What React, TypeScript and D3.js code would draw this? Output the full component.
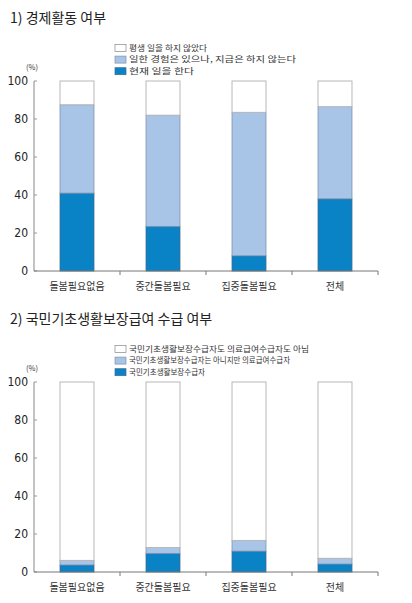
import React from 'react';
import * as d3 from 'd3';

const categories = ['돌봄필요없음', '중간돌봄필요', '집중돌봄필요', '전체'];
const yTicks = [0, 20, 40, 60, 80, 100];

// 1) 경제활동 여부
const workKeys = ['now', 'past', 'never'];
const workLabels = ['평생 일을 하지 않았다', '일한 경험은 있으나, 지금은 하지 않는다', '현재 일을 한다'];
const workNow = [41, 23.5, 8, 38];
const workPast = [46.5, 58.5, 75.5, 48.5];
const workNever = [12.5, 18, 16.5, 13.5];

// 2) 국민기초생활보장급여 수급 여부
const benefitLabels = [
  '국민기초생활보장수급자도 의료급여수급자도 아님',
  '국민기초생활보장수급자는 아니지만 의료급여수급자',
  '국민기초생활보장수급자',
];
const benefitBasic = [3.7, 9.8, 11, 4.2];
const benefitMedical = [2.4, 3.1, 5.6, 3.0];
const benefitNone = [93.9, 87.1, 83.4, 92.8];

const fills = ['#0a82c6', '#a8c4e7', '#ffffff'];
const strokes = ['#3f6a8f', '#7f93ad', '#b8b8b8'];
const legendFills = ['#ffffff', '#a8c4e7', '#0a82c6'];

const KR = '"Noto Sans CJK KR", "Noto Sans", sans-serif';
const NUM = '"Liberation Sans Narrow", "DejaVu Sans Condensed", sans-serif';

interface PanelProps {
  top: number;
  title: string;
  legend: string[];
  legendWidths: number[];
  series: number[][];
}

const Panel: React.FC<PanelProps> = ({ top, title, legend, legendWidths, series }) => {
  const x = d3.scaleBand<string>()
    .domain(categories)
    .range([34, 378])
    .paddingInner(0.605)
    .paddingOuter(0.3025);
  const y = d3.scaleLinear().domain([0, 100]).range([top + 257, top + 67]);

  const rows = categories.map((c, i) => {
    const r: any = { cat: c };
    workKeys.forEach((k, j) => (r[k] = series[j][i]));
    return r;
  });
  const stacked = d3.stack<any>().keys(workKeys)(rows);
  const step = x.step();

  return (
    <g>
      <text x={10} y={top + 9} fontFamily={KR} fontSize={14} fill="#222">{title}</text>

      {legend.map((l, i) => (
        <g key={l} transform={`translate(115,${top + 34 + i * 11.6})`}>
          <rect x={0} y={-3.5} width={11} height={7} fill={legendFills[i]}
            stroke={i === 0 ? '#888' : strokes[2 - i]} strokeWidth={0.7} />
          <text x={14} y={0} dy="0.36em" fontFamily={KR} fontSize={8}
            textLength={legendWidths[i]} lengthAdjust="spacingAndGlyphs" fill="#333">{l}</text>
        </g>
      ))}

      <text x={32} y={top + 56} textAnchor="middle" fontFamily={KR} fontSize={7.5} fill="#333">(%)</text>

      {/* y axis */}
      <line x1={34} x2={34} y1={y(100)} y2={y(0)} stroke="#b5b5b5" strokeWidth={1.6} />
      {yTicks.map(t => (
        <g key={t}>
          <line x1={34} x2={37} y1={y(t)} y2={y(t)} stroke="#999" strokeWidth={1} />
          <text x={28} y={y(t)} dy="0.36em" textAnchor="end" fontFamily={NUM} fontSize={12} fill="#222">{t}</text>
        </g>
      ))}

      {/* bars */}
      {stacked.map((s, j) => (
        <g key={s.key}>
          {s.map((d: any) => (
            <rect key={d.data.cat} x={x(d.data.cat)} width={x.bandwidth()}
              y={y(d[1])} height={y(d[0]) - y(d[1])}
              fill={fills[j]} stroke={strokes[j]} strokeWidth={j === 2 ? 1 : 0.8} />
          ))}
        </g>
      ))}

      {/* x axis */}
      <line x1={34} x2={378} y1={y(0)} y2={y(0)} stroke="#777" strokeWidth={1} />
      {categories.map((c, i) => (
        <line key={c} x1={34 + step * (i + 1)} x2={34 + step * (i + 1)} y1={y(0)} y2={y(0) + 4}
          stroke="#777" strokeWidth={1} />
      ))}
      {categories.map(c => (
        <text key={c} x={(x(c) ?? 0) + x.bandwidth() / 2} y={y(0) + 15} dy="0.35em" textAnchor="middle"
          fontFamily={KR} fontSize={10} fill="#333">{c}</text>
      ))}
    </g>
  );
};

export default function App() {
  return (
    <svg width={412} height={603} style={{ position: 'absolute', left: 0, top: 0, background: '#fff' }}>
      <Panel top={14} title="1) 경제활동 여부" legend={workLabels} legendWidths={[78, 167, 65]}
        series={[workNow, workPast, workNever]} />
      <Panel top={315} title="2) 국민기초생활보장급여 수급 여부" legend={benefitLabels} legendWidths={[180, 161, 76]}
        series={[benefitBasic, benefitMedical, benefitNone]} />
    </svg>
  );
}
